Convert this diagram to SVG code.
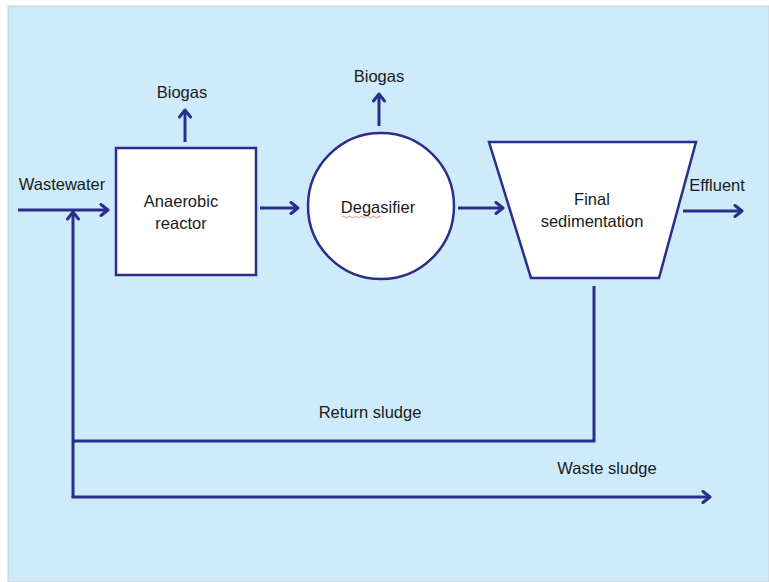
<svg xmlns="http://www.w3.org/2000/svg" width="769" height="582" viewBox="0 0 769 582">
  <style>
    .bg { fill: #cdebfb; }
    .unit { fill: #ffffff; stroke: #2b2d8c; stroke-width: 2.5; }
    .flow { fill: none; stroke: #2b2d8c; stroke-width: 3; }
    .lbl { font-family: "Liberation Sans", Arial, sans-serif; font-size: 16.5px; fill: #1a1a1a; text-anchor: middle; }
  </style>
  <defs>
    <marker id="head" viewBox="0 0 14 14" refX="11" refY="7" markerWidth="14" markerHeight="14" markerUnits="userSpaceOnUse" orient="auto">
      <path d="M4,1.5 L11,7 L4,12.5" fill="none" stroke="#2b2d8c" stroke-width="3" stroke-linecap="round" stroke-linejoin="round"/>
    </marker>
  </defs>

  <!-- page -->
  <rect x="0" y="0" width="769" height="582" fill="#ffffff"/>
  <rect x="8" y="6" width="761" height="576" class="bg" stroke="#c8cfd4" stroke-width="1"/>

  <!-- connectors -->
  <g id="connectors">
    <line class="flow" x1="18" y1="210" x2="108" y2="210" marker-end="url(#head)"/>
    <line class="flow" x1="260" y1="208" x2="298" y2="208" marker-end="url(#head)"/>
    <line class="flow" x1="458" y1="208" x2="503" y2="208" marker-end="url(#head)"/>
    <line class="flow" x1="683" y1="211" x2="742" y2="211" marker-end="url(#head)"/>
    <line class="flow" x1="185" y1="142" x2="185" y2="110" marker-end="url(#head)"/>
    <line class="flow" x1="379" y1="126" x2="379" y2="94" marker-end="url(#head)"/>
    <!-- return sludge loop -->
    <polyline class="flow" points="594,286 594,441 73,441"/>
    <line class="flow" x1="73" y1="497" x2="73" y2="212" marker-end="url(#head)"/>
    <!-- waste sludge -->
    <polyline class="flow" points="73,496 73,497 710,497" marker-end="url(#head)"/>
  </g>

  <g id="anaerobic-reactor">
    <rect class="unit" x="116" y="148" width="140" height="127"/>
    <text class="lbl" x="181" y="207">Anaerobic</text>
    <text class="lbl" x="181" y="229">reactor</text>
  </g>

  <g id="degasifier">
    <circle class="unit" cx="381" cy="206" r="73"/>
    <text class="lbl" x="378" y="213">Degasifier</text>
    <path d="M342,217 q1.5,-1.5 3,0 t3,0 t3,0 t3,0 t3,0 t3,0 t3,0 t3,0 t3,0 t3,0 t3,0 t3,0 t3,0" fill="none" stroke="#e0666a" stroke-width="0.8"/>
  </g>

  <g id="final-sedimentation">
    <polygon class="unit" points="489,142 696,142 659,278 531,278"/>
    <text class="lbl" x="592" y="205">Final</text>
    <text class="lbl" x="592" y="227">sedimentation</text>
  </g>

  <g id="labels">
    <text class="lbl" x="62" y="190">Wastewater</text>
    <text class="lbl" x="182" y="98">Biogas</text>
    <text class="lbl" x="379" y="82">Biogas</text>
    <text class="lbl" x="717" y="191">Effluent</text>
    <text class="lbl" x="370" y="418">Return sludge</text>
    <text class="lbl" x="607" y="474">Waste sludge</text>
  </g>
</svg>
